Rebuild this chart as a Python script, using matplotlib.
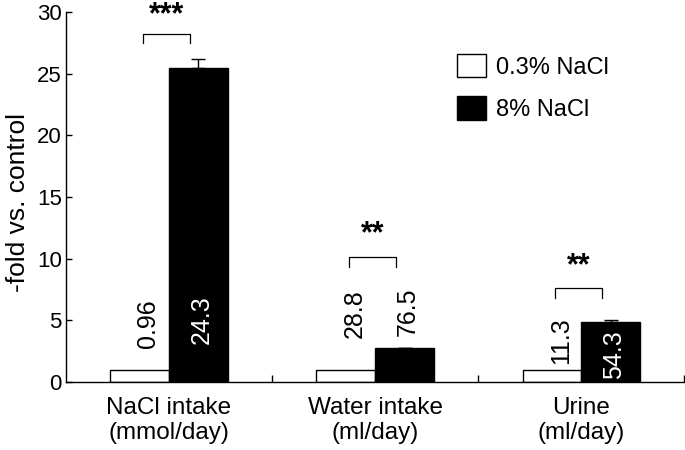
import matplotlib
matplotlib.use('Agg')
import matplotlib.pyplot as plt
import numpy as np

plt.rcParams['font.family'] = ['Liberation Sans', 'DejaVu Sans']

# ---- data ----
categories = ['NaCl intake\n(mmol/day)', 'Water intake\n(ml/day)', 'Urine\n(ml/day)']
series_names = ['0.3% NaCl', '8% NaCl']
low_salt = [1.0, 1.0, 1.0]
high_salt = [25.45, 2.75, 4.87]
high_err = [0.75, 0.0, 0.15]
low_labels = ['0.96', '28.8', '11.3']
high_labels = ['24.3', '76.5', '54.3']
stars = ['***', '**', '**']

# ---- layout constants ----
bar_w = 0.285
bracket_y = [28.2, 10.1, 7.6]
bracket_leg = 0.75
star_base = [29.05, 11.3, 8.7]
low_lab_y = [2.75, 3.55, 1.5]
high_lab_y = [3.1, 3.7, 0.28]

fig = plt.figure(figsize=(6.85, 4.5), dpi=100)
ax = fig.add_axes([66 / 685, 1 - 382 / 450, 1 - 66 / 685 - 0.001, (382 - 12) / 450])

x = np.arange(len(categories))
ax.bar(x - bar_w / 2, low_salt, bar_w, color='white', edgecolor='black', linewidth=1.0,
       label=series_names[0], zorder=2)
ax.bar(x + bar_w / 2, high_salt, bar_w, color='black', edgecolor='black', linewidth=1.0,
       label=series_names[1], zorder=2)
ax.errorbar(x + bar_w / 2, high_salt, yerr=[np.zeros(len(x)), high_err], fmt='none',
            ecolor='black', elinewidth=1.0, capsize=5, capthick=1.0, zorder=3)

for i in range(len(x)):
    ax.text(x[i] - 0.10, low_lab_y[i], low_labels[i], rotation=90, ha='center', va='bottom',
            fontsize=18, color='black', zorder=4)
    hcol = 'white' if high_lab_y[i] < high_salt[i] else 'black'
    ax.text(x[i] + 0.16, high_lab_y[i], high_labels[i], rotation=90, ha='center', va='bottom',
            fontsize=18, color=hcol, zorder=4)
    xl, xr = x[i] - 0.125, x[i] + 0.10
    ax.plot([xl, xl, xr, xr], [bracket_y[i] - bracket_leg, bracket_y[i], bracket_y[i],
                                bracket_y[i] - bracket_leg],
            color='black', linewidth=0.9, clip_on=False)
    ax.text((xl + xr) / 2, star_base[i], stars[i], ha='center', va='baseline', fontsize=22,
            fontweight='bold', clip_on=False)

ax.set_xlim(-0.5, 2.5)
ax.set_ylim(0, 30)
ax.set_yticks(np.arange(0, 31, 5))
ax.set_xticks(x)
ax.set_xticklabels(categories, fontsize=17.5, linespacing=1.17)
ax.tick_params(axis='x', length=0, pad=11)
ax.set_xticks([0.5, 1.5, 2.5], minor=True)
ax.tick_params(axis='x', which='minor', direction='in', length=5, width=1)
ax.tick_params(axis='y', labelsize=16, length=4.5, width=1, direction='in', pad=3)
ax.set_ylabel('-fold vs. control', fontsize=19)
ax.yaxis.set_label_coords(-0.058, 0.485)
for s in ['top', 'right']:
    ax.spines[s].set_visible(False)
for s in ['left', 'bottom']:
    ax.spines[s].set_linewidth(1.0)

leg = ax.legend(frameon=False, fontsize=17, handlelength=1.25, handleheight=1.15,
                handletextpad=0.4, labelspacing=0.75, borderaxespad=0, borderpad=0,
                loc='upper left')
leg.set_bbox_to_anchor((456 / 685 + 0.001, 1 - 54 / 450), transform=fig.transFigure)

fig.savefig('out.png', dpi=100)
